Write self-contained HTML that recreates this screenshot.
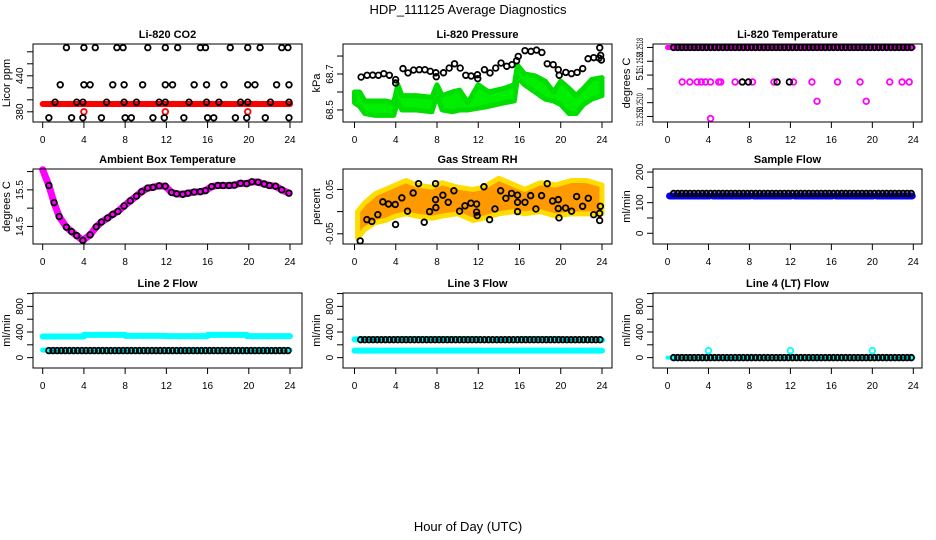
<!DOCTYPE html>
<html><head><meta charset="utf-8"><style>
body{margin:0;background:#fff}
svg{display:block}
text{font-family:"Liberation Sans",sans-serif;fill:#000}
</style></head><body>
<svg id="c" width="936" height="540" viewBox="0 0 936 540" xmlns="http://www.w3.org/2000/svg">
<text x="468" y="14" font-size="13" text-anchor="middle">HDP_111125  Average Diagnostics</text>
<text x="468" y="531" font-size="13" text-anchor="middle">Hour of Day (UTC)</text>
</svg>
<script>
const xTicks=[0,4,8,12,16,20,24];
const H=[0.6,1.0,1.4,1.8,2.2,2.6,3.0,3.4,3.8,4.2,4.6,5.0,5.4,5.8,6.2,6.6,7.0,7.4,7.8,8.2,8.6,9.0,9.4,9.8,10.2,10.6,11.0,11.4,11.8,12.2,12.6,13.0,13.4,13.8,14.2,14.6,15.0,15.4,15.8,16.2,16.6,17.0,17.4,17.8,18.2,18.6,19.0,19.4,19.8,20.2,20.6,21.0,21.4,21.8,22.2,22.6,23.0,23.4,23.8];
// CO2
const co2TopH=[2.3,4.0,5.1,7.2,7.8,10.2,11.9,13.1,15.3,15.8,18.2,19.9,21.1,23.2,23.8];
const co2TopV=487;
const co2R420H=[1.7,4.0,4.6,6.8,7.9,9.7,11.9,12.6,14.7,15.9,17.6,19.9,20.6,22.7,23.9];
const co2R420V=425;
const co2R396H=[1.2,3.3,3.9,6.2,7.9,9.1,11.3,11.9,14.2,15.9,17.1,19.2,19.9,22.1,23.9];
const co2R396V=396;
const co2LowH=[0.6,2.8,3.9,5.7,8.0,8.6,10.7,11.8,13.7,16.0,16.6,18.7,19.8,21.6,23.9];
const co2LowV=370;
const co2RedH=[4.0,11.9,19.9];
const co2RedV=380;
const co2Band=[[0,24,393]];
// Pressure
const presH=[0.64,1.22,1.77,2.32,2.84,3.38,3.99,3.99,4.70,5.19,5.73,6.28,6.83,7.35,7.89,7.93,8.63,9.18,9.70,10.25,10.79,11.31,11.92,11.95,12.60,13.14,13.69,14.21,14.76,15.27,15.72,15.88,16.53,17.11,17.65,18.17,18.69,19.27,19.76,19.85,20.49,21.04,21.59,22.13,22.65,23.20,23.71,23.78,23.87,23.94];
const presV=[68.683,68.693,68.694,68.693,68.702,68.693,68.669,68.650,68.730,68.706,68.722,68.724,68.724,68.715,68.707,68.685,68.707,68.733,68.757,68.733,68.693,68.689,68.696,68.674,68.724,68.706,68.733,68.761,68.743,68.752,68.774,68.798,68.830,68.826,68.833,68.820,68.757,68.752,68.724,68.693,68.709,68.702,68.709,68.730,68.785,68.791,68.789,68.846,68.804,68.778];
const presBandH=[0.0,0.5,1.0,2.0,3.0,3.8,4.2,4.6,6.0,7.5,8.0,8.5,9.5,10.2,11.0,12.0,13.0,14.5,15.5,15.8,16.5,17.5,18.5,19.3,20.0,20.8,21.5,22.2,23.0,24.0];
const presBandLo=[68.54,68.52,68.48,68.47,68.47,68.47,68.55,68.50,68.50,68.49,68.58,68.50,68.49,68.50,68.50,68.51,68.52,68.54,68.55,68.68,68.64,68.60,68.56,68.55,68.53,68.48,68.48,68.53,68.56,68.58];
const presBandHi=[68.60,68.60,68.55,68.55,68.55,68.54,68.64,68.58,68.58,68.57,68.64,68.58,68.60,68.61,68.54,68.64,68.60,68.62,68.64,68.75,68.70,68.69,68.66,68.60,68.66,68.62,68.58,68.62,68.67,68.68];
// Li-820 temperature
const tempTopV=51.2518;
const tempBand=[[0,24,51.2518]];
const tempMagH=[1.43,2.18,2.9,3.3,3.7,4.2,5.0,5.2,6.6,8.3,10.4,12.3,14.1,16.6,18.8,21.7,22.9,23.6,14.6,19.4,4.2];
const tempMagV=[51.2513,51.2513,51.2513,51.2513,51.2513,51.2513,51.2513,51.2513,51.2513,51.2513,51.2513,51.2513,51.2513,51.2513,51.2513,51.2513,51.2513,51.2513,51.25102,51.25102,51.25077];
const tempBlkH=[7.3,7.9,10.7,11.9];
const tempBlkV=[51.2513,51.2513,51.2513,51.2513];
// Ambient box temperature
const ambH=[0,0.6,1.1,1.6,2.3,2.8,3.3,3.9,4.6,5.2,5.7,6.3,6.8,7.3,7.9,8.5,9.1,9.6,10.2,10.7,11.3,11.9,12.5,13.0,13.6,14.1,14.7,15.3,15.8,16.4,17.0,17.5,18.1,18.6,19.2,19.8,20.3,20.9,21.5,22.0,22.6,23.2,23.9];
const ambV=[16.05,15.62,15.15,14.77,14.48,14.36,14.25,14.12,14.27,14.49,14.62,14.73,14.83,14.91,15.06,15.2,15.33,15.45,15.55,15.57,15.61,15.6,15.43,15.39,15.38,15.41,15.44,15.45,15.48,15.59,15.62,15.62,15.62,15.63,15.68,15.67,15.72,15.71,15.66,15.62,15.6,15.5,15.41];
// Gas stream RH
const rhH=[0.55,1.20,1.68,2.26,2.75,3.30,3.95,3.98,4.59,5.14,5.69,6.21,6.76,7.28,7.86,7.86,7.89,8.57,9.09,9.64,10.19,10.71,11.29,11.84,11.84,11.90,12.55,13.10,13.62,14.17,14.68,15.23,15.81,15.81,15.81,16.53,17.08,17.59,18.14,18.69,19.21,19.76,19.76,19.83,20.47,21.05,21.54,22.12,22.67,23.19,23.77,23.77,23.84];
const rhV=[-0.066,-0.018,-0.022,-0.007,0.022,0.017,0.016,-0.029,0.031,0.001,0.042,0.063,-0.024,0.0,0.063,0.027,0.009,0.037,0.021,0.047,0.001,0.013,0.019,0.017,-0.001,-0.009,0.056,-0.018,0.006,0.047,0.030,0.041,0.037,0.021,0.0,0.021,0.036,0.006,0.036,0.063,0.024,0.027,0.007,-0.014,0.008,0.001,0.034,0.012,0.030,-0.007,-0.020,-0.004,0.012];
const rhBandH=[0.3,1.0,2.0,3.0,4.0,5.0,6.0,7.5,8.5,10,11.5,12.5,14,15.5,16.5,18,19.5,21,22.5,24];
const rhBandLo=[-0.06,-0.04,-0.025,-0.02,-0.01,-0.005,-0.01,-0.015,-0.01,-0.005,-0.02,-0.015,-0.005,0.0,-0.005,0.0,-0.01,-0.005,-0.005,-0.005];
const rhBandHi=[0.0,0.02,0.04,0.05,0.06,0.07,0.06,0.055,0.065,0.055,0.05,0.055,0.075,0.06,0.05,0.065,0.06,0.07,0.07,0.06];
// Flows
const sampleBlackV=130;
const sampleBlue=[[0.2,4.1,122],[4.4,8.1,122],[8.4,12.1,122],[12.4,16.1,122],[16.4,20.1,122],[20.4,23.9,122]];
const line2Upper=[[0,4,330],[4,8,355],[8,12,340],[12,16,335],[16,19.8,355],[19.8,24,335]];
const line2Lower=[[0,24,118]];
const line2BlackV=110;
const line3Upper=[[0,4,285],[4,8,290],[8,12,290],[12,16,275],[16,20,290],[20,24,275]];
const line3Lower=[[0,24,110]];
const line3BlackV=280;
const line4Lower=[[0,24,0]];
const line4BlackV=0;
const line4CyanH=[4,12,20];
const line4CyanV=110;

const NS="http://www.w3.org/2000/svg";
const svg=document.getElementById('c');
function mk(tag,attrs,parent){const e=document.createElementNS(NS,tag);for(const k in attrs)e.setAttribute(k,attrs[k]);(parent||svg).appendChild(e);return e;}
const cols=[{l:33,r:302,x0:42.7,x24:290},{l:343,r:612,x0:354.5,x24:602},{l:653,r:922,x0:667.5,x24:913.3}];
const rows=[{t:44,b:122},{t:169,b:244},{t:293,b:368}];
function panel(ci,ri,title,ylab,ydom,yt,ylabels,name,lblLen){
  const c=cols[ci],r=rows[ri];
  const g=mk('g',{});
  
  
  const sx=h=>c.x0+(h/24)*(c.x24-c.x0);
  const sy=v=>r.b-(v-ydom[0])/(ydom[1]-ydom[0])*(r.b-r.t);
  const t=mk('text',{x:(c.l+c.r)/2,y:r.t-6,'font-size':11,'font-weight':'bold','text-anchor':'middle'},g);
  t.textContent=title;
  
  
  const yl=mk('text',{x:0,y:0,'font-size':11,'text-anchor':'middle',transform:`translate(${c.l-23},${(r.t+r.b)/2}) rotate(-90)`},g);
  yl.textContent=ylab;
  
  
  const plot=mk('g',{},g);
  
  
  const ax=mk('g',{stroke:'#000','stroke-width':1},g);
  
  
  mk('rect',{x:c.l,y:r.t,width:c.r-c.l,height:r.b-r.t,fill:'none'},ax);
  xTicks.forEach(h=>{
    mk('line',{x1:sx(h),x2:sx(h),y1:r.b,y2:r.b+6},ax);
    const tl=mk('text',{x:sx(h),y:r.b+21,'font-size':10,'text-anchor':'middle',stroke:'none'},g);
    tl.textContent=h;
    
    
  });
  mk('line',{x1:sx(0),x2:sx(24),y1:r.b,y2:r.b},ax);
  yt.forEach((v,i)=>{
    mk('line',{x1:c.l,x2:c.l-6,y1:sy(v),y2:sy(v)},ax);
    if(ylabels[i]){
      const a={x:0,y:0,'font-size':10,'text-anchor':'middle',stroke:'none',transform:`translate(${c.l-10},${sy(v)}) rotate(-90)`};
      if(lblLen && ylabels[i].length>3){a.textLength=lblLen;a.lengthAdjust='spacingAndGlyphs';a['font-size']=9;}
      const tl=mk('text',a,g);
      tl.textContent=ylabels[i];
      
      
    }
  });
  return {sx,sy,g:plot};
}
function pts(p,hs,vs,color,name,r,sw){
  hs.forEach((h,i)=>{
    const v=Array.isArray(vs)?vs[i]:vs;
    const e=mk('circle',{cx:p.sx(h),cy:p.sy(v),r:r||2.8,fill:'none',stroke:color,'stroke-width':sw||1.8},p.g);
    
    
  });
}
function bands(p,segs,color,w,name){
  segs.forEach(s=>{
    const e=mk('line',{x1:p.sx(s[0]),x2:p.sx(s[1]),y1:p.sy(s[2]),y2:p.sy(s[2]),stroke:color,'stroke-width':w,'stroke-linecap':'round'},p.g);
    
    
  });
}
function cloud(p,hs,lo,hi,fill,stroke,name){
  let d=hs.map((h,i)=>(i?'L':'M')+p.sx(h)+','+p.sy(hi[i])).join('');
  for(let i=hs.length-1;i>=0;i--)d+='L'+p.sx(hs[i])+','+p.sy(lo[i]);
  const e=mk('path',{d:d+'Z',fill:fill,stroke:stroke,'stroke-width':5,'stroke-linejoin':'round'},p.g);
  
  
}
function line(p,hs,vs,color,w,name){
  const e=mk('polyline',{points:hs.map((h,i)=>p.sx(h)+','+p.sy(vs[i])).join(' '),fill:'none',stroke:color,'stroke-width':w,'stroke-linejoin':'round','stroke-linecap':'round'},p.g);
  
  
}
// P1
let p=panel(0,0,'Li-820 CO2','Licor ppm',[363,493],[380,400,420,440,460,480],['380','','','440','',''],'co2');
bands(p,co2Band,'#ff0000',6,'co2-red-series');
pts(p,co2RedH,co2RedV,'#ff0000','co2-red-point');
pts(p,co2TopH,co2TopV,'#000','co2-black-point');
pts(p,co2R420H,co2R420V,'#000','co2-black-point');
pts(p,co2R396H,co2R396V,'#000','co2-black-point');
pts(p,co2LowH,co2LowV,'#000','co2-black-point');
// P2
p=panel(1,0,'Li-820 Pressure','kPa',[68.433,68.867],[68.5,68.6,68.7,68.8],['68.5','','68.7',''],'pressure');
cloud(p,presBandH,presBandLo,presBandHi,'#00ee00','#00dd00','pressure-green-series');
pts(p,presH,presV,'#000','pressure-black-point');
// P3
p=panel(2,0,'Li-820 Temperature','degrees C',[51.25072,51.25185],[51.2508,51.2510,51.2512,51.2514,51.2516,51.2518],['51.2510','51.2510','','51','51 2518','51.2518'],'li820-temp',19);
bands(p,tempBand,'#ff00ff',5,'li820-temp-magenta-series');
pts(p,H,tempTopV,'#000','li820-temp-black-point');
pts(p,tempMagH,tempMagV,'#ff00ff','li820-temp-magenta-point');
pts(p,tempBlkH,tempBlkV,'#000','li820-temp-black-point');
// P4
p=panel(0,1,'Ambient Box Temperature','degrees C',[14.02,16.07],[14.5,15,15.5,16],['14.5','','15.5',''],'ambient-temp');
line(p,ambH,ambV,'#ff00ff',7,'ambient-temp-magenta-series');
pts(p,ambH.slice(1),ambV.slice(1),'#000','ambient-temp-black-point');
// P5
p=panel(1,1,'Gas Stream RH','percent',[-0.073,0.096],[-0.05,0,0.05],['-0.05','','0.05'],'gas-rh');
cloud(p,rhBandH,rhBandLo,rhBandHi,'#ff9900','#ffdd00','gas-rh-orange-series');
pts(p,rhH,rhV,'#000','gas-rh-black-point');
// P6
p=panel(2,1,'Sample Flow','ml/min',[-35,210],[0,50,100,150,200],['0','','100','','200'],'sample-flow');
bands(p,sampleBlue,'#0000ff',7,'sample-flow-blue-series');
pts(p,H,sampleBlackV,'#000','sample-flow-black-point');
// P7
const rowYT=[0,200,400,600,800,1000],rowYL=['0','','400','','800',''],rowDom=[-162,1009];
p=panel(0,2,'Line 2 Flow','ml/min',rowDom,rowYT,rowYL,'line2-flow');
bands(p,line2Upper,'#00ffff',6,'line2-cyan-series');
bands(p,line2Lower,'#00ffff',5,'line2-cyan-series');
pts(p,H,line2BlackV,'#000','line2-black-point');
// P8
p=panel(1,2,'Line 3 Flow','ml/min',rowDom,rowYT,rowYL,'line3-flow');
bands(p,line3Upper,'#00ffff',6,'line3-cyan-series');
bands(p,line3Lower,'#00ffff',6,'line3-cyan-series');
pts(p,H,line3BlackV,'#000','line3-black-point');
// P9
p=panel(2,2,'Line 4 (LT) Flow','ml/min',rowDom,rowYT,rowYL,'line4-flow');
bands(p,line4Lower,'#00ffff',4,'line4-cyan-series');
pts(p,H,line4BlackV,'#000','line4-black-point');
pts(p,line4CyanH,line4CyanV,'#00ffff','line4-cyan-point');
</script>
</body></html>
